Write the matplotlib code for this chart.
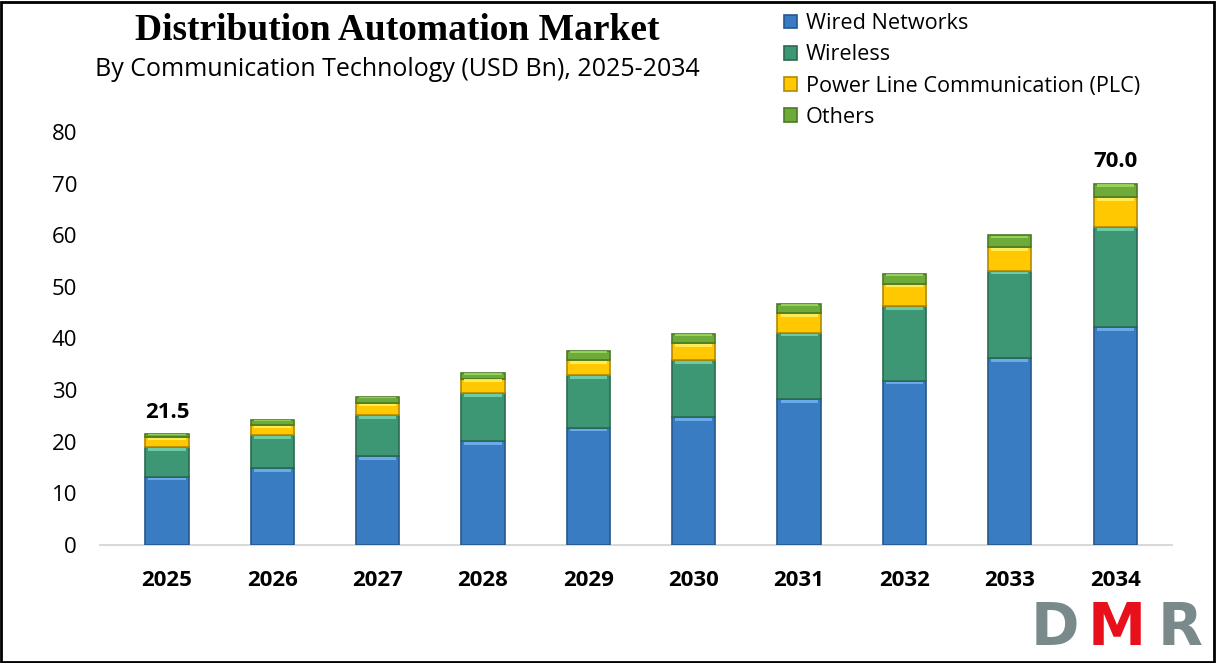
import numpy as np
import matplotlib
matplotlib.use("Agg")
import matplotlib.pyplot as plt
from matplotlib.patches import Rectangle

years = ["2025", "2026", "2027", "2028", "2029", "2030", "2031", "2032", "2033", "2034"]
wired = [13.2, 14.9, 17.2, 20.1, 22.7, 24.8, 28.3, 31.8, 36.2, 42.2]
wireless = [5.8, 6.4, 8.0, 9.3, 10.2, 11.0, 12.8, 14.5, 16.9, 19.4]
plc = [1.9, 1.9, 2.3, 2.8, 2.9, 3.3, 3.8, 4.3, 4.6, 5.8]
others = [0.6, 1.0, 1.2, 1.1, 1.8, 1.8, 1.8, 1.9, 2.3, 2.6]
labels = ["Wired Networks", "Wireless", "Power Line Communication (PLC)", "Others"]
colors = ["#3a7cc2", "#3d9674", "#ffc800", "#6eaa3a"]
edges = ["#25578c", "#2a6b50", "#b38a00", "#4a7a25"]
tops = ["#6fb0ef", "#74d0aa", "#fff060", "#9ad85e"]

SANS = ["Open Sans", "DejaVu Sans"]


def main():
    fig = plt.figure(figsize=(12.16, 6.63), dpi=100)
    ax = fig.add_axes([100 / 1216, 1 - 545 / 663, 1072 / 1216, 413 / 663])

    x = np.arange(len(years))
    width = 0.41
    bottom = np.zeros(len(years))
    series = [wired, wireless, plc, others]
    for vals, c, e, t, lab in zip(series, colors, edges, tops, labels):
        vals = np.array(vals)
        ax.bar(x, vals, width, bottom=bottom, color=c, edgecolor=e, linewidth=1.2,
               label=lab, zorder=3)
        # bevel highlight on top of each segment
        hl = np.minimum(vals * 0.25, 0.7)
        ax.bar(x, hl * 0.8, width * 0.86, bottom=bottom + vals - hl, color=t,
               linewidth=0, zorder=4, alpha=0.9)
        bottom = bottom + vals

    totals = bottom
    for i in [0, len(years) - 1]:
        ax.text(x[i], totals[i] + 2.2, f"{totals[i]:.1f}", ha="center", va="bottom",
                fontsize=16, fontweight="bold", family=SANS)

    ax.set_xlim(-0.636, 9.54)
    ax.set_ylim(0, 80)
    ax.set_yticks(range(0, 81, 10))
    ax.set_xticks(x)
    ax.set_xticklabels(years, fontsize=16, fontweight="bold", family=SANS)
    for lb in ax.get_yticklabels():
        lb.set_fontsize(16)
        lb.set_family(SANS)
    ax.tick_params(axis="both", length=0)
    ax.tick_params(axis="x", pad=18)
    ax.tick_params(axis="y", pad=16.5)
    for s in ["top", "right", "left"]:
        ax.spines[s].set_visible(False)
    ax.spines["bottom"].set_color("#d9d9d9")
    ax.spines["bottom"].set_linewidth(1.5)

    fig.text(397 / 1216, 1 - 30 / 663, "Distribution Automation Market", ha="center",
             va="center", fontsize=27, fontweight="bold", family="Liberation Serif")
    fig.text(397 / 1216, 1 - 70 / 663, "By Communication Technology (USD Bn), 2025-2034",
             ha="center", va="center", fontsize=18, family=SANS)

    handles, labs = ax.get_legend_handles_labels()
    ax.legend(handles[:4], labs[:4], loc="upper left", bbox_to_anchor=(769 / 1216, 1 + 2 / 663),
              bbox_transform=fig.transFigure, frameon=False, prop={"family": SANS, "size": 15.6},
              handlelength=0.6, handleheight=0.6, handletextpad=0.4, labelspacing=0.47,
              borderaxespad=0.3)

    # logo
    for letter, xpos, col in [("D", 1031, "#7a8a8a"), ("M", 1088, "#e8101a"), ("R", 1158, "#7a8a8a")]:
        fig.text(xpos / 1216, 1 - 657 / 663, letter, color=col, fontsize=42, fontweight="bold",
                 family="DejaVu Sans", ha="left", va="bottom")

    fig.patches.append(Rectangle((0.001, 0.002), 0.997, 0.995, transform=fig.transFigure,
                                 fill=False, edgecolor="black", linewidth=2))
    fig.savefig("out.png", dpi=100)


if __name__ == "__main__":
    main()
